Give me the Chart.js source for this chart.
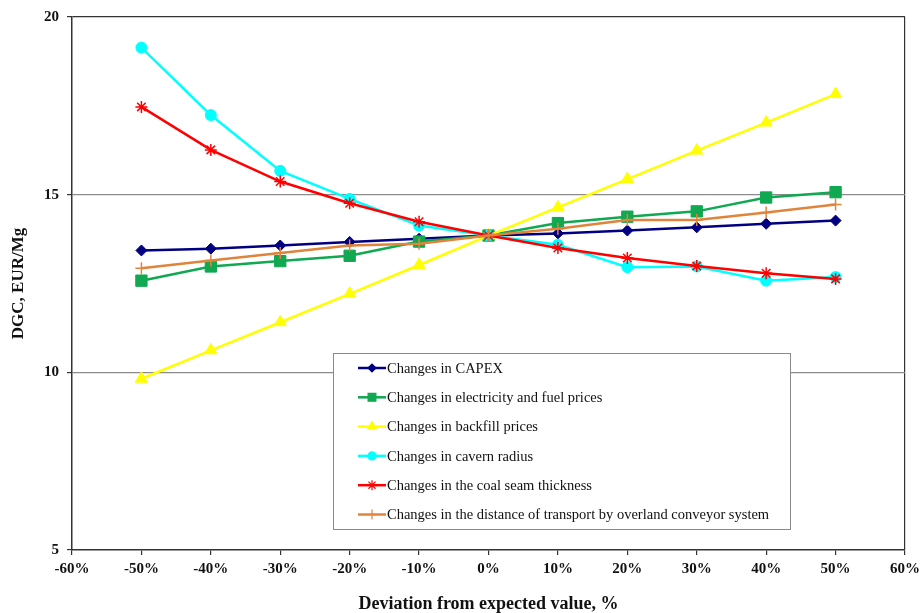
<!DOCTYPE html>
<html>
<head>
<meta charset="utf-8">
<script src="https://cdn.jsdelivr.net/npm/chart.js@4.4.1/dist/chart.umd.min.js"></script>
<style>
html,body{margin:0;padding:0;background:#fff;}
canvas{display:block;}
</style>
</head>
<body>
<canvas id="c" width="921" height="613"></canvas>
<script>
// ---- data ----
const deviations = [-50, -40, -30, -20, -10, 0, 10, 20, 30, 40, 50];
const seriesNames = [
  'Changes in CAPEX',
  'Changes in electricity and fuel prices',
  'Changes in backfill prices',
  'Changes in cavern radius',
  'Changes in the coal seam thickness',
  'Changes in the distance of transport by overland conveyor system'
];
const capex       = [13.43, 13.48, 13.57, 13.67, 13.76, 13.85, 13.91, 13.99, 14.08, 14.18, 14.27];
const electricity = [12.58, 12.98, 13.13, 13.28, 13.68, 13.85, 14.20, 14.38, 14.53, 14.92, 15.07];
const backfill    = [9.82, 10.62, 11.41, 12.21, 13.02, 13.85, 14.64, 15.44, 16.24, 17.03, 17.83];
const cavern      = [19.14, 17.24, 15.67, 14.88, 14.13, 13.85, 13.59, 12.96, 12.98, 12.58, 12.68];
const coalSeam    = [17.47, 16.26, 15.37, 14.76, 14.24, 13.85, 13.50, 13.22, 12.99, 12.79, 12.63];
const transport   = [12.93, 13.15, 13.36, 13.57, 13.62, 13.85, 14.04, 14.29, 14.29, 14.50, 14.72];
const xTicks = [-60, -50, -40, -30, -20, -10, 0, 10, 20, 30, 40, 50, 60];
const yTicks = [5, 10, 15, 20];

const allValues = [capex, electricity, backfill, cavern, coalSeam, transport];
const colors = ['#000080', '#10A850', '#FFFF00', '#00FFFF', '#FF0000', '#E0843C'];
const styles = ['rectRot', 'rect', 'triangle', 'circle', 'star', 'cross'];
const radii  = [5.5, 8, 7, 5.5, 6, 6];
const legendRadii = [4, 5.5, 5, 4, 5, 5];

const serif = "'Liberation Serif', 'DejaVu Serif', serif";

const datasets = allValues.map((vals, i) => ({
  label: seriesNames[i],
  data: deviations.map((d, j) => ({x: d, y: vals[j]})),
  borderColor: colors[i],
  backgroundColor: colors[i],
  borderWidth: 2.5,
  pointStyle: styles[i],
  pointRadius: radii[i],
  pointHoverRadius: radii[i],
  pointBorderColor: colors[i],
  pointBackgroundColor: colors[i],
  pointBorderWidth: (styles[i] === 'star' || styles[i] === 'cross') ? 1.5 : 1,
  tension: 0,
  order: allValues.length - i
}));

const legendPlugin = {
  id: 'boxLegend',
  afterDatasetsDraw(chart) {
    const ctx = chart.ctx;
    const left = 333, top = 353, right = 790, bottom = 529;
    ctx.save();
    ctx.fillStyle = '#ffffff';
    ctx.fillRect(left, top, right - left, bottom - top);
    ctx.strokeStyle = '#8a8a8a';
    ctx.lineWidth = 1;
    ctx.strokeRect(left + 0.5, top + 0.5, right - left, bottom - top);
    ctx.font = "14.5px " + serif;
    ctx.textBaseline = 'middle';
    ctx.textAlign = 'left';
    chart.data.datasets.forEach((ds, i) => {
      const y = 368 + i * 29.3;
      ctx.strokeStyle = ds.borderColor;
      ctx.lineWidth = 2.5;
      ctx.beginPath();
      ctx.moveTo(358, y);
      ctx.lineTo(386, y);
      ctx.stroke();
      ctx.fillStyle = ds.borderColor;
      ctx.strokeStyle = ds.borderColor;
      ctx.lineWidth = 1.2;
      if (Chart.helpers && Chart.helpers.drawPoint) {
        Chart.helpers.drawPoint(ctx, {pointStyle: ds.pointStyle, radius: legendRadii[i], rotation: 0, borderWidth: 1.2}, 372, y);
      }
      ctx.fillStyle = '#111';
      ctx.fillText(ds.label, 387, y + 1);
    });
    ctx.restore();
  }
};

new Chart(document.getElementById('c'), {
  type: 'line',
  data: { datasets },
  plugins: [legendPlugin],
  options: {
    responsive: false,
    animation: false,
    events: [],
    layout: { padding: { left: 0, right: 16, top: 16, bottom: 0 } },
    plugins: { legend: { display: false }, tooltip: { enabled: false } },
    scales: {
      x: {
        type: 'linear',
        min: -60, max: 60,
        afterBuildTicks(scale) { scale.ticks = xTicks.map(v => ({value: v})); },
        afterFit(scale) { scale.height = 63; scale.paddingRight = 0; scale.paddingLeft = 0; },
        ticks: {
          callback: v => v + '%',
          color: '#111',
          font: { family: serif, size: 15, weight: 'bold' },
          padding: 5,
          maxRotation: 0,
          autoSkip: false
        },
        grid: {
          color: c => (c.tick && c.tick.value === 60) ? '#333' : 'rgba(0,0,0,0)',
          tickColor: '#333',
          tickLength: 5,
          lineWidth: 1.2
        },
        border: { color: '#333', width: 1.5 },
        title: {
          display: true,
          text: 'Deviation from expected value, %',
          color: '#111',
          font: { family: serif, size: 18, weight: 'bold' },
          padding: { top: 0, bottom: -2 }
        }
      },
      y: {
        min: 5, max: 20,
        afterBuildTicks(scale) { scale.ticks = yTicks.map(v => ({value: v})); },
        afterFit(scale) { scale.width = 72; },
        ticks: {
          color: '#111',
          font: { family: serif, size: 15, weight: 'bold' },
          padding: 8
        },
        grid: {
          color: c => (c.tick && c.tick.value === 20) ? '#333' : (c.tick && c.tick.value === 5 ? 'rgba(0,0,0,0)' : '#8c8c8c'),
          tickColor: '#333',
          tickLength: 5,
          lineWidth: 1.2
        },
        border: { color: '#333', width: 1.5 },
        title: {
          display: true,
          text: 'DGC, EUR/Mg',
          color: '#111',
          font: { family: serif, size: 17, weight: 'bold' },
          padding: { top: 8, bottom: 0 }
        }
      }
    }
  }
});
</script>
</body>
</html>
